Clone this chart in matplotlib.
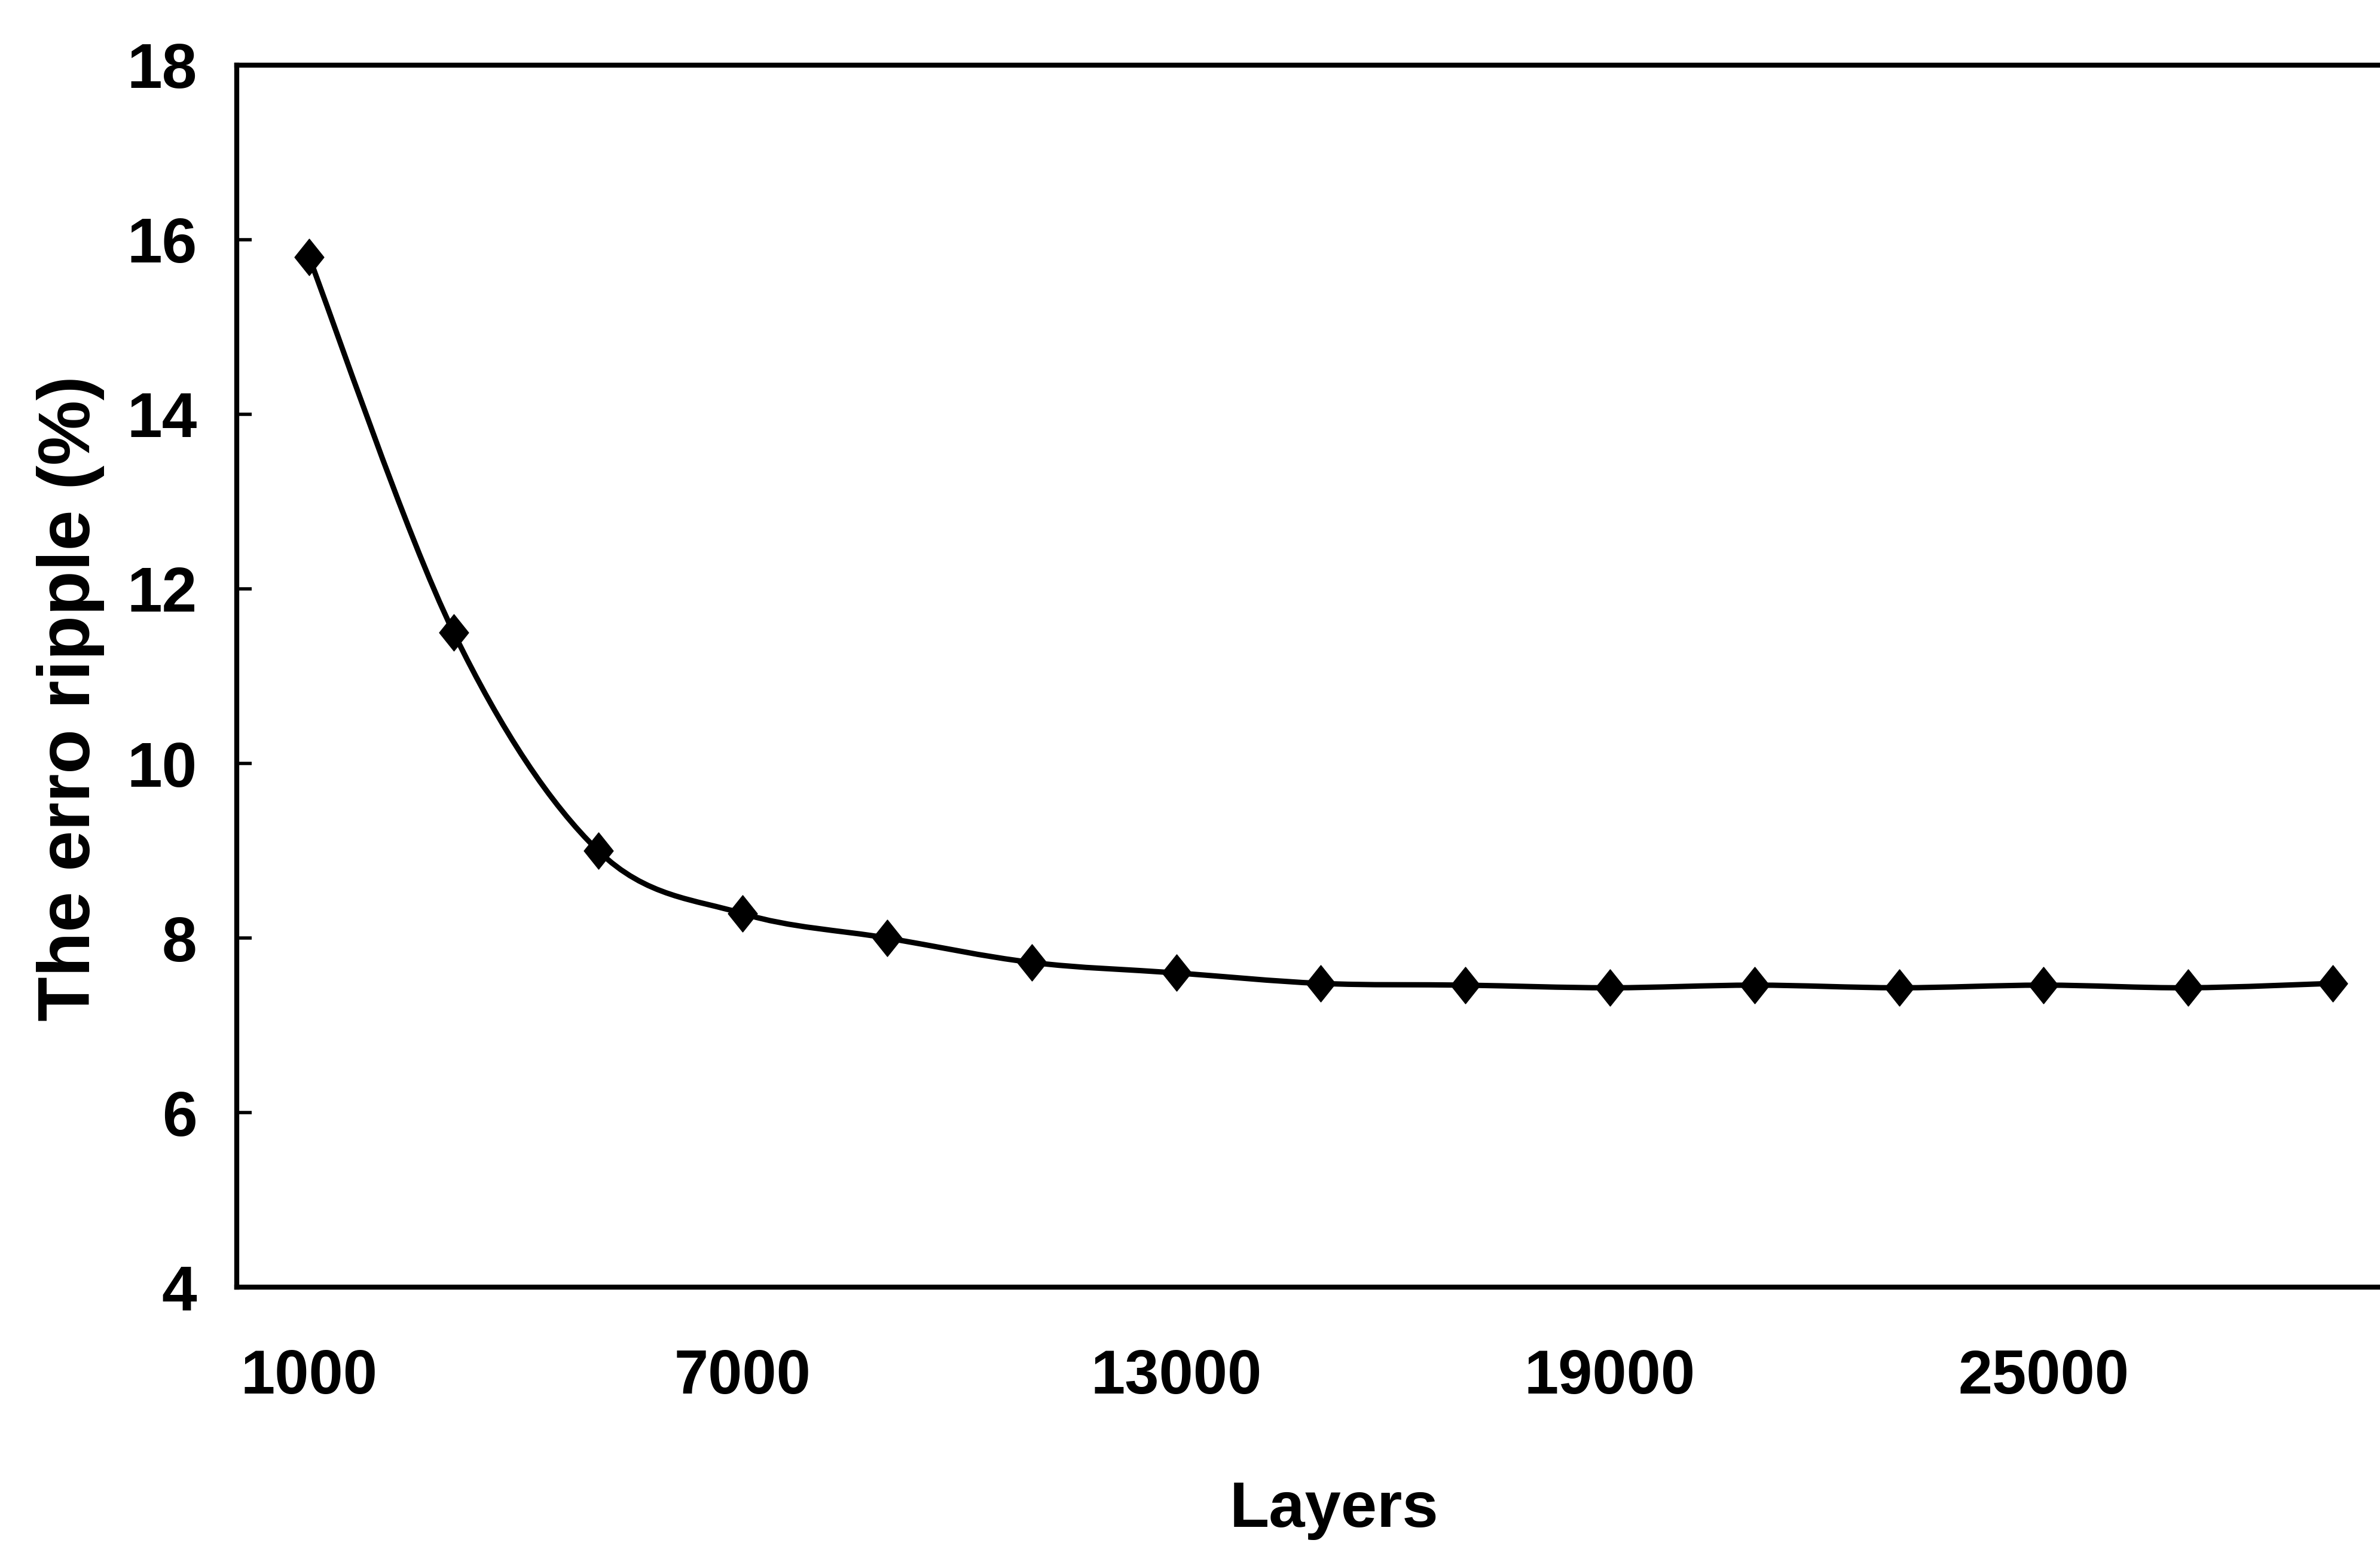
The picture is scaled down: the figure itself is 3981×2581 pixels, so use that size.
import numpy as np
import matplotlib
matplotlib.use("Agg")
import matplotlib.pyplot as plt
from matplotlib.path import Path
from matplotlib.patches import PathPatch
from matplotlib import font_manager as fm

# Error ripple versus number of layers
layers = [1000, 3000, 5000, 7000, 9000, 11000, 13000, 15000,
          17000, 19000, 21000, 23000, 25000, 27000, 29000]
ripple = [15.8, 11.5, 9.0, 8.28, 8.0, 7.72, 7.6, 7.48,
          7.46, 7.43, 7.46, 7.43, 7.46, 7.43, 7.48]
x_ticks = [1000, 7000, 13000, 19000, 25000]
y_ticks = [4, 6, 8, 10, 12, 14, 16, 18]

names = {f.name for f in fm.fontManager.ttflist}
narrow = "Liberation Sans Narrow" if "Liberation Sans Narrow" in names else "Liberation Sans"
wide = "Liberation Sans"


def smooth_path(xs, ys):
    """Piecewise cubic Bezier through the points (spreadsheet-style smoothing)."""
    pts = np.column_stack([xs, ys]).astype(float)
    n = len(pts)
    verts = [pts[0]]
    codes = [Path.MOVETO]
    for i in range(n - 1):
        p0 = pts[i - 1] if i > 0 else pts[i]
        p1 = pts[i]
        p2 = pts[i + 1]
        p3 = pts[i + 2] if i + 2 < n else pts[i + 1]
        c1 = p1 + (p2 - p0) / 6.0
        c2 = p2 - (p3 - p1) / 6.0
        verts += [c1, c2, p2]
        codes += [Path.CURVE4] * 3
    return Path(verts, codes)


fig = plt.figure(figsize=(39.81, 25.81), dpi=100)
ax = fig.add_axes([0.0995, 0.1658, 0.911, 0.792])

ax.set_xlim(0, 30000)
ax.set_ylim(4, 18)

curve = PathPatch(smooth_path(layers, ripple), facecolor="none",
                  edgecolor="black", linewidth=6.5, transform=ax.transData,
                  zorder=3, capstyle="round", joinstyle="round")
ax.add_patch(curve)

diamond = Path([(0, 1), (0.8, 0), (0, -1), (-0.8, 0), (0, 1)],
               [Path.MOVETO, Path.LINETO, Path.LINETO, Path.LINETO, Path.CLOSEPOLY])
ax.plot(layers, ripple, linestyle="none", marker=diamond, markersize=44,
        color="black", zorder=4)

for side in ("left", "bottom", "top"):
    ax.spines[side].set_linewidth(6)
    ax.spines[side].set_color("black")
ax.spines["right"].set_visible(False)

ax.set_xticks(x_ticks)
ax.set_xticklabels([str(v) for v in x_ticks], fontfamily=narrow,
                   fontweight="bold", fontsize=74)
ax.tick_params(axis="x", length=0, pad=74)

ax.set_yticks(y_ticks)
ax.set_yticklabels([str(v) for v in y_ticks], fontfamily=narrow,
                   fontweight="bold", fontsize=76)
ax.tick_params(axis="y", direction="in", length=18, width=4, pad=48)

ax.set_xlabel("Layers", fontfamily=narrow, fontweight="bold", fontsize=78)
ax.xaxis.set_label_coords(0.506, -0.158)
ax.set_ylabel("The erro ripple (%)", fontfamily=wide, fontweight="bold",
              fontsize=88)
ax.yaxis.set_label_coords(-0.061, 0.482)

fig.savefig("out.png", dpi=100, facecolor="white")
